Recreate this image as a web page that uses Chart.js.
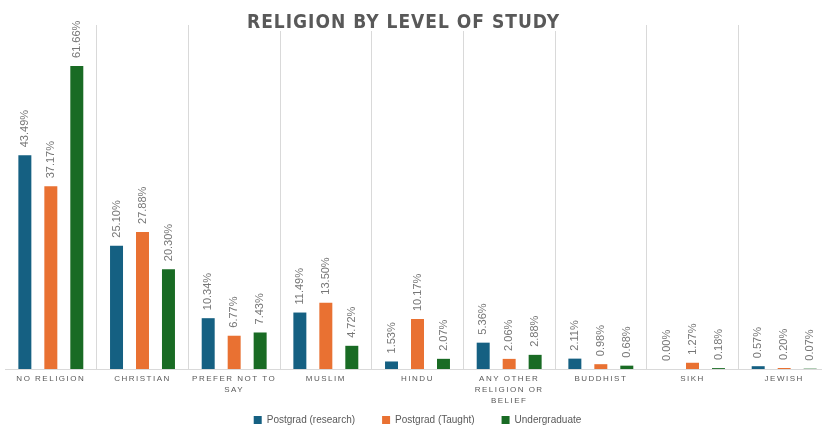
<!DOCTYPE html>
<html>
<head>
<meta charset="utf-8">
<script src="https://cdn.jsdelivr.net/npm/chart.js@4.4.1/dist/chart.umd.min.js"></script>
<style>
  html, body { margin: 0; padding: 0; background: #fff; overflow: hidden; }
  #wrap { position: relative; width: 832px; height: 425px; }
</style>
</head>
<body>
<div id="wrap"><canvas id="religionChart"></canvas></div>
<script>
const categorie = [
    ['NO RELIGION'],
    ['CHRISTIAN'],
    ['PREFER NOT TO', 'SAY'],
    ['MUSLIM'],
    ['HINDU'],
    ['ANY OTHER', 'RELIGION OR', 'BELIEF'],
    ['BUDDHIST'],
    ['SIKH'],
    ['JEWISH']
];
const pgResearch = [43.49, 25.10, 10.34, 11.49, 1.53, 5.36, 2.11, 0.00, 0.57];
const pgTaught   = [37.17, 27.88, 6.77, 13.50, 10.17, 2.06, 0.98, 1.27, 0.20];
const undergrad  = [61.66, 20.30, 7.43, 4.72, 2.07, 2.88, 0.68, 0.18, 0.07];

const GRIGIO = '#595959';
const FONT_TITOLO = "bold 19px 'Liberation Sans Narrow', 'DejaVu Sans Condensed', 'Liberation Sans', sans-serif";
Chart.defaults.font.family = "'Liberation Sans', Arial, sans-serif";
Chart.defaults.color = GRIGIO;

// etichette valore ruotate sopra le barre
const etichetteBarre = {
    id: 'etichetteBarre',
    afterDatasetsDraw(chart) {
        const ctx = chart.ctx;
        ctx.save();
        ctx.letterSpacing = '0px';
        ctx.font = "11px 'Liberation Sans', Arial, sans-serif";
        ctx.fillStyle = '#767676';
        ctx.textAlign = 'left';
        ctx.textBaseline = 'middle';
        chart.data.datasets.forEach((ds, i) => {
            const meta = chart.getDatasetMeta(i);
            meta.data.forEach((bar, j) => {
                ctx.save();
                ctx.translate(bar.x, bar.y - 8);
                ctx.rotate(-Math.PI / 2);
                ctx.fillText(ds.data[j].toFixed(2) + '%', 0, 0);
                ctx.restore();
            });
        });
        ctx.restore();
    }
};

// spaziatura lettere per titolo e assi, sfondo bianco del titolo
const spaziatura = {
    id: 'spaziatura',
    beforeDraw(chart) {
        const x = chart.scales.x;
        if (x && !x._spaziato) {
            const orig = x.drawLabels;
            x._computeLabelArea = () => undefined; // niente clip sulle etichette a più righe
            x.drawLabels = function (area) {
                this.ctx.save();
                this.ctx.letterSpacing = '1.5px';
                orig.call(this, area);
                this.ctx.restore();
            };
            x._spaziato = true;
        }
    },
    afterDraw(chart) {
        const t = chart.titleBlock;
        if (!t) return;
        const c = chart.ctx;
        c.save();
        c.letterSpacing = '1px';
        c.font = FONT_TITOLO;
        const w = c.measureText(chart.options.plugins.title.text).width;
        const cx = (chart.width / 2) - 13;
        c.fillStyle = '#ffffff';
        c.fillRect(cx - w / 2 - 4, 0, w + 8, 31);
        c.fillStyle = GRIGIO;
        c.textAlign = 'center';
        c.textBaseline = 'middle';
        c.fillText(chart.options.plugins.title.text, cx + 0.5, 23.5);
        c.restore();
    }
};

const ctx = document.getElementById('religionChart').getContext('2d');
new Chart(ctx, {
    type: 'bar',
    data: {
        labels: categorie,
        datasets: [
            { label: 'Postgrad (research)', data: pgResearch, backgroundColor: '#156082' },
            { label: 'Postgrad (Taught)', data: pgTaught, backgroundColor: '#E97132' },
            { label: 'Undergraduate', data: undergrad, backgroundColor: '#196B24' }
        ]
    },
    options: {
        responsive: true,
        maintainAspectRatio: false,
        animation: false,
        datasets: { bar: { categoryPercentage: 0.85, barPercentage: 0.5 } },
        layout: { padding: { left: 5, right: 2, top: 0, bottom: -10 } },
        plugins: {
            title: {
                display: true,
                text: 'RELIGION BY LEVEL OF STUDY',
                color: 'rgba(0,0,0,0)', // disegnato sopra, con fondo bianco
                font: { size: 19, weight: 'bold', lineHeight: 1 },
                padding: { top: 15, bottom: -9 }
            },
            legend: {
                position: 'bottom',
                labels: { boxWidth: 8, boxHeight: 8, padding: 27, color: GRIGIO, font: { size: 10 } }
            },
            tooltip: { enabled: false }
        },
        scales: {
            x: {
                grid: {
                    offset: true,
                    drawTicks: false,
                    color: c => c.index === 0 ? 'rgba(0,0,0,0)' : '#d9d9d9'
                },
                border: { color: '#d9d9d9' },
                ticks: {
                    autoSkip: false, maxRotation: 0, padding: 4.5, color: GRIGIO,
                    font: { size: 8, lineHeight: 1.375 }
                },
                afterFit: s => { s.height = 19; }
            },
            y: { display: false, min: 0, max: 70 }
        }
    },
    plugins: [etichetteBarre, spaziatura]
});
</script>
</body>
</html>
